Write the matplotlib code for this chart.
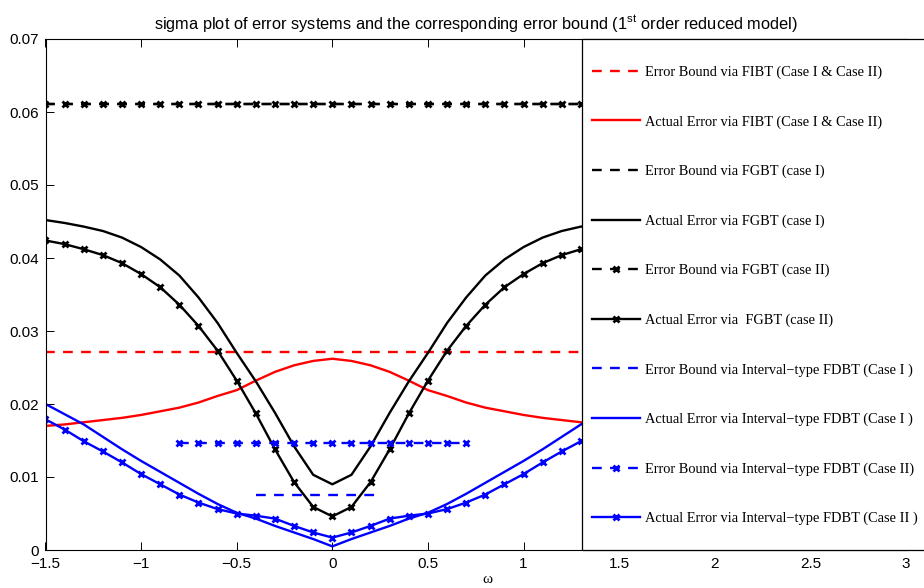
import numpy as np
import matplotlib
matplotlib.use("Agg")
import matplotlib.pyplot as plt
from matplotlib.patches import Rectangle

plt.rcParams['font.family'] = ['Liberation Sans', 'DejaVu Sans']
plt.rcParams['lines.scale_dashes'] = False

# Tan so (omega), buoc 0.1
omega = np.linspace(-1.5, 1.5, 31)

# Sai so FIBT (Case I & Case II)
fibt_bound = 0.0271
fibt_actual = [0.0170, 0.0172, 0.0175, 0.0178, 0.0181, 0.0185, 0.0190, 0.0195,
               0.0202, 0.0211, 0.0219, 0.0232, 0.0244, 0.0253, 0.0259, 0.0262,
               0.0259, 0.0253, 0.0244, 0.0232, 0.0219, 0.0211, 0.0202, 0.0195,
               0.0190, 0.0185, 0.0181, 0.0178, 0.0175, 0.0172, 0.0170]

# Sai so FGBT
fgbt_bound_1 = 0.0611
fgbt_bound_2 = 0.0611
fgbt_actual_1 = [0.0452, 0.0448, 0.0443, 0.0437, 0.0428, 0.0415, 0.0398, 0.0376,
                 0.0346, 0.0311, 0.0270, 0.0231, 0.0188, 0.0142, 0.0103, 0.0090,
                 0.0103, 0.0142, 0.0188, 0.0231, 0.0270, 0.0311, 0.0346, 0.0376,
                 0.0398, 0.0415, 0.0428, 0.0437, 0.0443, 0.0448, 0.0452]
fgbt_actual_2 = [0.0424, 0.0419, 0.0412, 0.0404, 0.0393, 0.0378, 0.0360, 0.0336,
                 0.0307, 0.0273, 0.0232, 0.0187, 0.0138, 0.0093, 0.0059, 0.0046,
                 0.0059, 0.0093, 0.0138, 0.0187, 0.0232, 0.0273, 0.0307, 0.0336,
                 0.0360, 0.0378, 0.0393, 0.0404, 0.0412, 0.0419, 0.0424]

# Sai so FDBT kieu khoang
fdbt_bound_1 = 0.0075
fdbt_range_1 = [-0.4, 0.25]
fdbt_bound_2 = 0.0146
fdbt_range_2 = np.linspace(-0.8, 0.7, 16)
fdbt_actual_1 = [0.0200, 0.0186, 0.0172, 0.0155, 0.0138, 0.0122, 0.0107, 0.0092,
                 0.0077, 0.0063, 0.0051, 0.0043, 0.0033, 0.0024, 0.0015, 0.0005,
                 0.0015, 0.0024, 0.0033, 0.0043, 0.0051, 0.0063, 0.0077, 0.0092,
                 0.0107, 0.0122, 0.0138, 0.0155, 0.0172, 0.0186, 0.0200]
fdbt_actual_2 = [0.0179, 0.0165, 0.0149, 0.0135, 0.0120, 0.0104, 0.0090, 0.0076,
                 0.0065, 0.0056, 0.0050, 0.0047, 0.0043, 0.0033, 0.0024, 0.0017,
                 0.0024, 0.0033, 0.0043, 0.0047, 0.0050, 0.0056, 0.0065, 0.0076,
                 0.0090, 0.0104, 0.0120, 0.0135, 0.0149, 0.0165, 0.0179]

labels = [
    'Error Bound via FIBT (Case I & Case II)',
    'Actual Error via FIBT (Case I & Case II)',
    'Error Bound via FGBT (case I)',
    'Actual Error via FGBT (case I)',
    'Error Bound via FGBT (case II)',
    'Actual Error via  FGBT (case II)',
    'Error Bound via Interval\u2212type FDBT (Case I )',
    'Actual Error via Interval\u2212type FDBT (Case I )',
    'Error Bound via Interval\u2212type FDBT (Case II)',
    'Actual Error via Interval\u2212type FDBT (Case II )',
]

x_ticks = [-1.5, -1, -0.5, 0, 0.5, 1, 1.5, 2, 2.5, 3]
x_ticklabels = ['\u22121.5', '\u22121', '\u22120.5', '0', '0.5', '1', '1.5', '2', '2.5', '3']
y_ticks = [0, 0.01, 0.02, 0.03, 0.04, 0.05, 0.06, 0.07]
y_ticklabels = ['0', '0.01', '0.02', '0.03', '0.04', '0.05', '0.06', '0.07']


def ve_bieu_do():
    fig = plt.figure(figsize=(9.24, 5.88), dpi=100)
    ax = fig.add_axes([45.5 / 924, 1 - 550 / 588, 860.5 / 924, 511 / 588])

    lw = 1.7
    dash = (7, 6)
    mk = dict(marker='x', markersize=5, markeredgewidth=2)
    full = np.ones_like(omega)

    ax.plot(omega, fibt_bound * full, color='red', lw=lw, ls='--', dashes=dash, label=labels[0])
    ax.plot(omega, fibt_actual, color='red', lw=lw, label=labels[1])
    ax.plot(omega, fgbt_bound_1 * full, color='black', lw=lw, ls='--', dashes=dash, label=labels[2])
    ax.plot(omega, fgbt_actual_1, color='black', lw=lw, label=labels[3])
    ax.plot(omega, fgbt_bound_2 * full, color='black', lw=lw, ls='--', dashes=dash, label=labels[4], **mk)
    ax.plot(omega, fgbt_actual_2, color='black', lw=lw, label=labels[5], **mk)
    ax.plot(fdbt_range_1, [fdbt_bound_1] * 2, color='blue', lw=lw, ls='--', dashes=dash, label=labels[6])
    ax.plot(omega, fdbt_actual_1, color='blue', lw=lw, label=labels[7])
    ax.plot(fdbt_range_2, fdbt_bound_2 * np.ones_like(fdbt_range_2), color='blue', lw=lw,
            ls='--', dashes=dash, label=labels[8], **mk)
    ax.plot(omega, fdbt_actual_2, color='blue', lw=lw, label=labels[9], **mk)

    ax.set_xlim(-1.5, 3)
    ax.set_ylim(0, 0.07)
    ax.set_xticks(x_ticks, x_ticklabels)
    ax.set_yticks(y_ticks, y_ticklabels)
    ax.tick_params(direction='in', top=True, right=True, length=6, width=0.7,
                   labelsize=11, pad=5)
    for s in ax.spines.values():
        s.set_linewidth(0.8)

    ax.set_title('sigma plot of error systems and the corresponding error bound '
                 '(1$^{\\mathregular{st}}$ order reduced model)', fontsize=11.8, pad=7)
    ax.set_xlabel('\u03c9', family='Liberation Serif', fontsize=11)
    ax.xaxis.set_label_coords(0.513, -0.045)
    ax.xaxis.label.set_va('top')

    # khung chu thich chiem het chieu cao truc
    box = Rectangle((0.6235, 0), 0.6, 1, transform=ax.transAxes, facecolor='white',
                    edgecolor='black', lw=0.9, zorder=4, clip_on=False)
    ax.add_patch(box)

    ax.legend(loc='upper left', bbox_to_anchor=(0.6348, 0.948), frameon=False,
              prop={'family': 'Liberation Serif', 'size': 10.4},
              handlelength=3.34, handletextpad=0.35, labelspacing=2.5,
              borderpad=0, borderaxespad=0)

    fig.savefig('out.png', dpi=100)


def main():
    ve_bieu_do()


if __name__ == "__main__":
    main()
